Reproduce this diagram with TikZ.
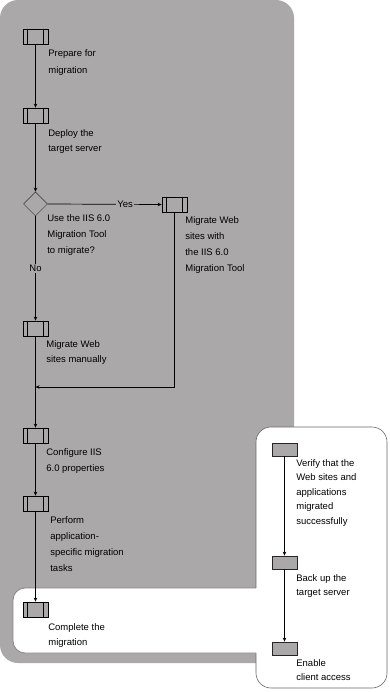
\documentclass[tikz,border=0pt]{standalone}
\usepackage{fontspec}
\setmainfont{Liberation Sans}
\usetikzlibrary{arrows.meta,shapes.geometric}
\definecolor{bggray}{RGB}{170,168,168}
\definecolor{edgegray}{RGB}{105,103,103}
\definecolor{shadegray}{RGB}{135,133,133}
\begin{document}
\begin{tikzpicture}[x=1pt,y=-1pt,
  every path/.style={line width=0.7pt},
  proc/.style={draw=black, fill=bggray, minimum width=25pt, minimum height=15pt, inner sep=0pt},
  rbox/.style={draw=black!85, fill=bggray, minimum width=25pt, minimum height=13pt, inner sep=0pt},
  dec/.style={diamond, draw=black!80, line width=0.5pt, fill=bggray, minimum width=24pt, minimum height=24pt, inner sep=0pt},
  lbl/.style={anchor=north west, align=left, inner sep=0pt, font=\fontsize{9.5}{16}\selectfont},
  arr/.style={-{Stealth[length=4pt,width=3.5pt]}},
  tag/.style={fill=bggray, inner sep=1.5pt, font=\fontsize{9.5}{11}\selectfont}
]
\useasboundingbox (0,0) rectangle (389,692);
% backgrounds
\fill[bggray, rounded corners=18pt] (0,0) rectangle (294,663);
\filldraw[fill=white, draw=edgegray, line width=0.6pt, rounded corners=15pt] (256,427) rectangle (387,688);
\fill[white, rounded corners=12pt] (13,588) rectangle (270,653);
\draw[shadegray, line width=0.8pt, rounded corners=12pt] (256,588) -- (13,588) -- (13,653) -- (256,653);

% left flow nodes
\node[proc] (p1) at (35.5,36.5) {};
\node[proc] (p2) at (35.5,115.5) {};
\node[dec]  (dia) at (35.5,204) {};
\node[proc] (p3) at (174.5,204.5) {};
\node[proc] (p4) at (35.5,328.5) {};
\node[proc] (p5) at (35.5,435.5) {};
\node[proc] (p6) at (35.5,503.5) {};
\node[proc] (p7) at (35.5,609.5) {};
\foreach \n in {p1,p2,p3,p4,p5,p6,p7}{
  \draw[line width=0.5pt] ([xshift=5pt]\n.north west) -- ([xshift=5pt]\n.south west);
  \draw[line width=0.5pt] ([xshift=-5pt]\n.north east) -- ([xshift=-5pt]\n.south east);
}
% right flow nodes
\node[rbox] (r1) at (284.5,449.5) {};
\node[rbox] (r2) at (284.5,562.5) {};
\node[rbox] (r3) at (284.5,648.5) {};

% labels
\node[lbl, font=\fontsize{9.5}{17}\selectfont] (l1) at (48,49.5) {Prepare for\\migration};
\node[lbl, font=\fontsize{9.5}{15}\selectfont] (l2) at (48,129.5) {Deploy the\\target server};
\node[lbl] (l3) at (47,214) {Use the IIS 6.0\\Migration Tool\\to migrate?};
\node[lbl] (l4) at (185,216) {Migrate Web\\sites with\\the IIS 6.0\\Migration Tool};
\node[lbl, font=\fontsize{9.5}{15}\selectfont] (l5) at (46,340) {Migrate Web\\sites manually};
\node[lbl] (l6) at (46,448) {Configure IIS\\6.0 properties};
\node[lbl] (l7) at (50,516) {Perform\\application-\\specific migration\\tasks};
\node[lbl, font=\fontsize{9.5}{15}\selectfont] (l8) at (48,623) {Complete the\\migration};
\node[lbl, font=\fontsize{9.5}{14.5}\selectfont] (l9) at (296,459) {Verify that the\\Web sites and\\applications\\migrated\\successfully};
\node[lbl, font=\fontsize{9.5}{14}\selectfont] (l10) at (296,574.5) {Back up the\\target server};
\node[lbl, font=\fontsize{9.5}{14}\selectfont] (l11) at (296,659.5) {Enable\\client access};

% connectors
\draw[arr] (p1) -- (p2);
\draw[arr] (p2) -- (dia);
\draw[arr] (dia.east) -- node[tag, pos=0.68] (yes) {Yes} (p3.west);
\draw[arr] (dia.south) -- node[tag, pos=0.5] (no) {No} (p4.north);
\draw[arr] (p4) -- (p5);
\coordinate (j) at (35.5,387);
\draw[arr, line width=0.9pt] (p3.south) |- (j);
\draw[arr] (p5) -- (p6);
\draw[arr] (p6) -- (p7);
\draw[arr] (r1) -- (r2);
\draw[arr] (r2) -- (r3);
\end{tikzpicture}
\end{document}
